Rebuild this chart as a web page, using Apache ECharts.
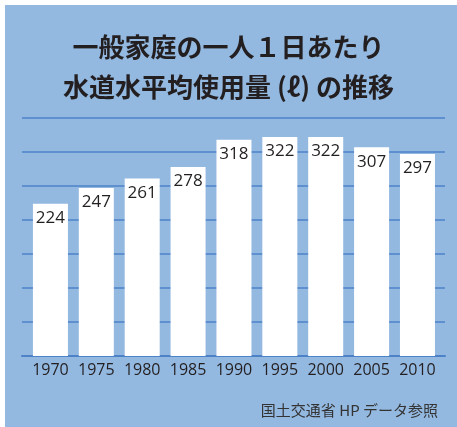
<!DOCTYPE html>
<html>
<head>
<meta charset="utf-8">
<script src="https://cdn.jsdelivr.net/npm/echarts@6/dist/echarts.min.js"></script>
<style>
html,body{margin:0;padding:0;background:#ffffff;}
#chart{width:457px;height:427px;}
</style>
</head>
<body>
<div id="chart"></div>
<script>
var categories = ['1970','1975','1980','1985','1990','1995','2000','2005','2010'];
var usage = [224, 247, 261, 278, 318, 322, 322, 307, 297];
var yTicks = [0, 50, 100, 150, 200, 250, 300, 350];
var titleText = '一般家庭の一人１日あたり\n水道水平均使用量 (ℓ) の推移';
var sourceText = '国土交通省 HP データ参照';

var chart = echarts.init(document.getElementById('chart'), null, {renderer: 'canvas'});
var blue = '#94b9e1';
var lineBlue = '#4d82c9';
var textColor = '#231f20';

chart.setOption({
  backgroundColor: '#ffffff',
  animation: false,
  title: {
    text: titleText,
    left: 'center',
    top: 22,
    textStyle: {
      fontFamily: 'Noto Sans CJK JP',
      fontSize: 26,
      fontWeight: 'bold',
      color: textColor,
      lineHeight: 40
    }
  },
  graphic: [
    {type: 'rect', z: -10, silent: true, shape: {x: 5, y: 5, width: 452, height: 422}, style: {fill: blue}},
    {type: 'text', z: 10, x: 438, y: 410, style: {text: sourceText, align: 'right', verticalAlign: 'middle', fill: '#333333', font: '15px "Noto Sans CJK JP"'}}
  ],
  grid: [
    {left: 22, right: 12, top: 118, bottom: 71},
    {left: 27.5, right: 16.6, top: 118, bottom: 71}
  ],
  xAxis: [
    {type: 'value', gridIndex: 0, min: 0, max: 1, axisLine: {show: true, onZero: false, lineStyle: {color: lineBlue, width: 2}}, axisTick: {show: false}, axisLabel: {show: false}, splitLine: {show: false}},
    {type: 'category', gridIndex: 1, data: categories, axisLine: {show: false}, axisTick: {show: false},
     axisLabel: {interval: 0, margin: 6, color: textColor, fontFamily: 'Open Sans', fontWeight: 500, fontSize: 16}}
  ],
  yAxis: [
    {type: 'value', gridIndex: 0, min: yTicks[0], max: yTicks[yTicks.length-1], interval: 50, axisLine: {show: false}, axisTick: {show: false}, axisLabel: {show: false},
     splitLine: {show: true, lineStyle: {color: lineBlue, width: 1.5}}},
    {type: 'value', gridIndex: 1, min: yTicks[0], max: yTicks[yTicks.length-1], interval: 50, show: false, splitLine: {show: false}}
  ],
  series: [{
    type: 'bar',
    xAxisIndex: 1,
    yAxisIndex: 1,
    data: usage,
    barWidth: 35,
    itemStyle: {color: '#ffffff'},
    label: {show: true, position: 'insideTop', distance: 6, color: textColor, fontFamily: 'Open Sans', fontWeight: 500, fontSize: 17}
  }]
});
</script>
</body>
</html>
